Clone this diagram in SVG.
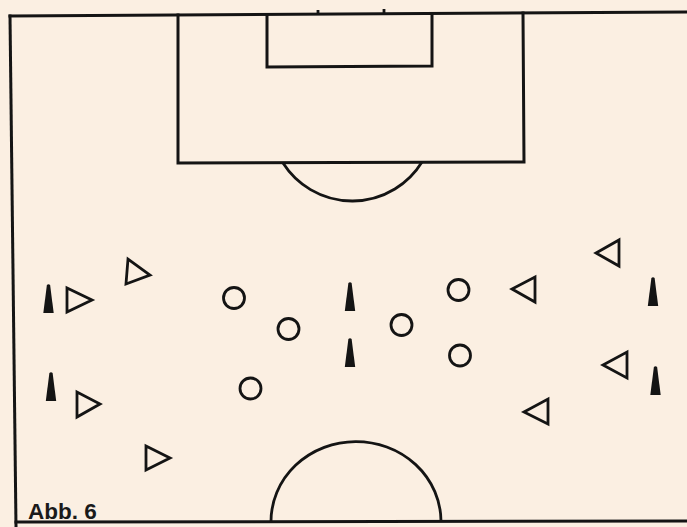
<svg xmlns="http://www.w3.org/2000/svg" width="687" height="527" viewBox="0 0 687 527">
<style>
.bg{fill:#fbefe2}
.ln{fill:none;stroke:#141414;stroke-width:3;stroke-linecap:square}
.arc{fill:none;stroke:#141414;stroke-width:2.8}
.tri{fill:none;stroke:#141414;stroke-width:2.8;stroke-linejoin:miter}
.pl{fill:none;stroke:#141414;stroke-width:2.8}
.cone{fill:#141414}
.lbl{font-family:"Liberation Sans",Arial,sans-serif;font-weight:bold;font-size:22.5px;fill:#1a1a1a}
</style>
<defs>
<path id="cone" d="M-1.6,0 Q0,-1.5 1.6,0 L5.2,28 L-5.2,28 Z"/>
</defs>
<rect class="bg" x="0" y="0" width="687" height="527"/>
<g id="field">
<path class="ln" d="M10,16 L687,12"/>
<path class="ln" d="M10,16 L16,527"/>
<path class="ln" d="M16,522 L687,521"/>
<path class="ln" d="M178,15 L178,163 L524,162 L523,13"/>
<path class="ln" d="M267,15 L267,67 L432,66 L432,14"/>
<path class="arc" d="M318,14 L318,10 M384,13 L384,9"/>
<path class="arc" d="M283,163 A82,82 0 0 0 422,162"/>
<path class="arc" d="M271,522 A85,80 0 0 1 441,521"/>
</g>
<g id="cones">
<use id="cone1" href="#cone" class="cone" x="48.5" y="285"/>
<use id="cone2" href="#cone" class="cone" x="51" y="373"/>
<use id="cone3" href="#cone" class="cone" x="350" y="283"/>
<use id="cone4" href="#cone" class="cone" x="350" y="339"/>
<use id="cone5" href="#cone" class="cone" x="653" y="278"/>
<use id="cone6" href="#cone" class="cone" x="655.5" y="367"/>
</g>
<g id="attackers">
<polygon id="a1" class="tri" points="128,259 126,284 150,275"/>
<polygon id="a2" class="tri" points="67,288 67,312 92,300"/>
<polygon id="a3" class="tri" points="77,392 77,417 100,404"/>
<polygon id="a4" class="tri" points="146,446 146,470 170,458"/>
</g>
<g id="defenders">
<polygon id="d1" class="tri" points="619,240 619,266 596,253"/>
<polygon id="d2" class="tri" points="535,277 535,302 512,289"/>
<polygon id="d3" class="tri" points="627,352 627,378 603,365"/>
<polygon id="d4" class="tri" points="548,399 548,424 524,412"/>
</g>
<g id="players">
<circle id="p1" class="pl" cx="234" cy="298" r="10.5"/>
<circle id="p2" class="pl" cx="288.5" cy="329" r="10.5"/>
<circle id="p3" class="pl" cx="250.5" cy="388.5" r="10.5"/>
<circle id="p4" class="pl" cx="458.5" cy="290" r="10.5"/>
<circle id="p5" class="pl" cx="401.5" cy="325" r="10.5"/>
<circle id="p6" class="pl" cx="460" cy="355.5" r="10.5"/>
</g>
<g id="label">
<text class="lbl" x="28" y="519">Abb. 6</text>
</g>
</svg>
